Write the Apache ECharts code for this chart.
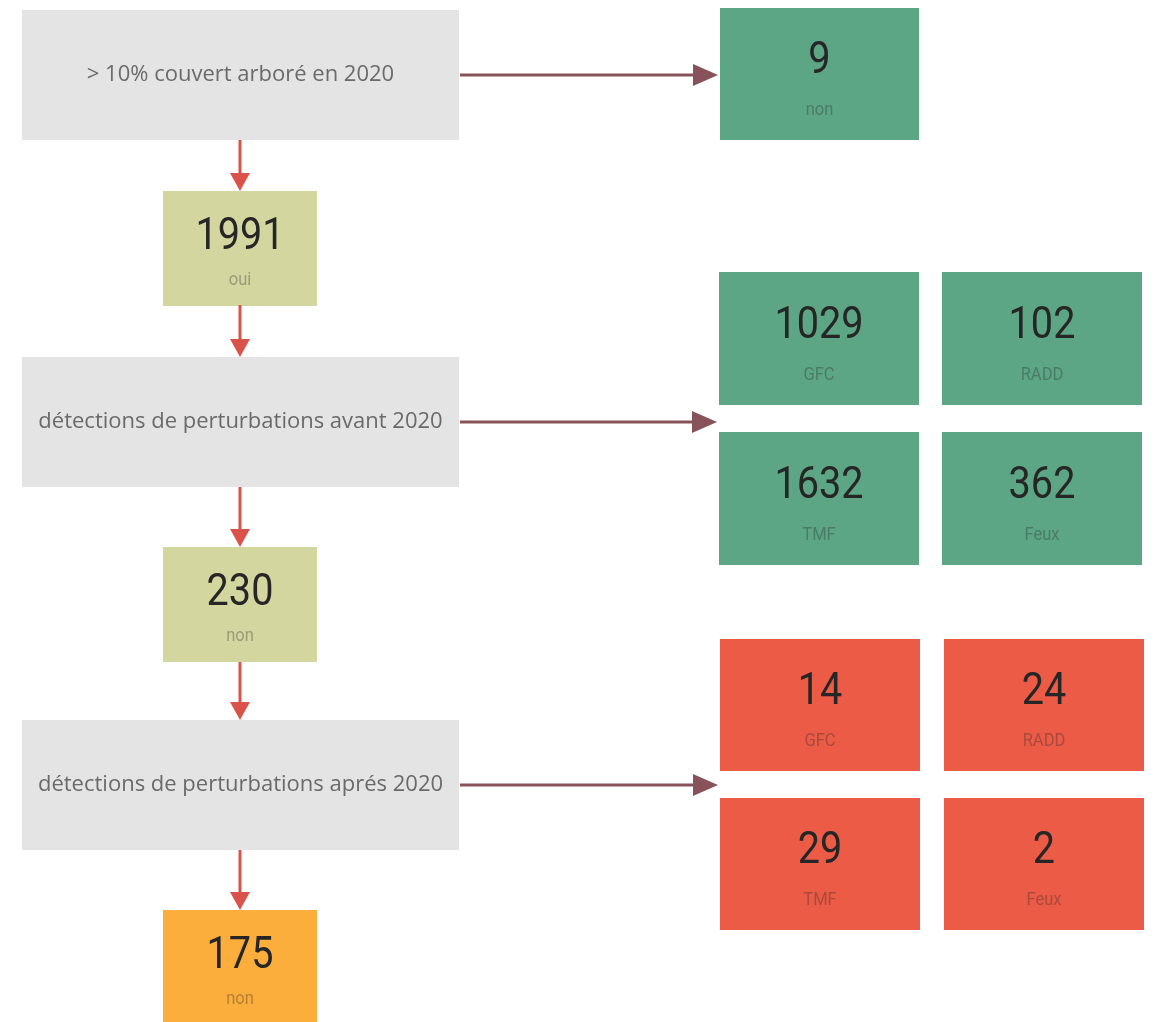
<!DOCTYPE html>
<html>
<head>
<meta charset="utf-8">
<script src="https://cdn.jsdelivr.net/npm/echarts@6/dist/echarts.min.js"></script>
<style>
html,body{margin:0;padding:0;background:#fff;}
#chart{width:1154px;height:1022px;}
</style>
</head>
<body>
<div id="chart"></div>
<script>
// ---- data ----
const stepLabels = ['> 10% couvert arboré en 2020', 'détections de perturbations avant 2020', 'détections de perturbations aprés 2020'];
const flowCounts = [1991, 230, 175];
const flowLabels = ['oui', 'non', 'non'];
const excludedCount = [9];
const excludedLabel = ['non'];
const sources = ['GFC', 'RADD', 'TMF', 'Feux'];
const before2020 = [1029, 102, 1632, 362];
const after2020 = [14, 24, 29, 2];

// ---- layout (pixels) ----
const stepX = 22, stepW = 437, stepH = 130;
const stepY = [10, 357, 720];
const countX = 163, countW = 154, countH = 115;
const countY = [191, 547, 910];
const gridColsA = [719, 942], gridRowsA = [272, 432];
const gridColsB = [720, 944], gridRowsB = [639, 798];
const cellW = 200, cellH = 133;

const C = {
  gray: '#e4e4e4', olive: '#d4d6a0', green: '#5ca686', red: '#ec5b46', orange: '#fbae3c',
  vArrow: '#d9534a', hArrow: '#88525a'
};

const boxes = [];
stepLabels.forEach((t, i) => boxes.push({x: stepX, y: stepY[i], w: stepW, h: stepH, color: C.gray, title: t}));
flowCounts.forEach((v, i) => boxes.push({x: countX, y: countY[i], w: countW, h: countH, color: i === 2 ? C.orange : C.olive, num: v, sub: flowLabels[i]}));
boxes.push({x: 720, y: 8, w: 199, h: 132, color: C.green, num: excludedCount[0], sub: excludedLabel[0]});
before2020.forEach((v, i) => boxes.push({x: gridColsA[i % 2], y: gridRowsA[Math.floor(i / 2)], w: cellW, h: cellH, color: C.green, num: v, sub: sources[i]}));
after2020.forEach((v, i) => boxes.push({x: gridColsB[i % 2], y: gridRowsB[Math.floor(i / 2)], w: cellW, h: cellH - 1, color: C.red, num: v, sub: sources[i]}));

const cx = countX + countW / 2;
const arrows = [
  [cx, 140, cx, 191, 'v'],
  [cx, 305, cx, 357, 'v'],
  [cx, 487, cx, 547, 'v'],
  [cx, 662, cx, 720, 'v'],
  [cx, 850, cx, 910, 'v'],
  [460, 75, 718, 75, 'h'],
  [460, 422, 717, 422, 'h'],
  [460, 785, 718, 785, 'h']
];

const chart = echarts.init(document.getElementById('chart'));
chart.setOption({
  backgroundColor: '#ffffff',
  animation: false,
  grid: {left: 0, right: 0, top: 0, bottom: 0},
  xAxis: {type: 'value', min: 0, max: 1154, show: false},
  yAxis: {type: 'value', min: 0, max: 1022, inverse: true, show: false},
  series: [
    {
      type: 'custom',
      coordinateSystem: 'cartesian2d',
      data: boxes.map(b => [b.x, b.y, b.w, b.h]),
      renderItem: function (params, api) {
        const b = boxes[params.dataIndex];
        const p = api.coord([api.value(0), api.value(1)]);
        const s = api.size([api.value(2), api.value(3)]);
        const children = [{
          type: 'rect',
          shape: {x: p[0], y: p[1], width: s[0], height: s[1]},
          style: {fill: b.color}
        }];
        if (b.title) {
          children.push({
            type: 'text',
            style: {
              x: p[0] + s[0] / 2, y: p[1] + s[1] / 2, text: b.title,
              fill: '#6a6a6a', font: '400 22px "Open Sans", sans-serif',
              align: 'center', verticalAlign: 'middle'
            }
          });
        } else {
          children.push({
            type: 'text',
            x: p[0] + s[0] / 2, y: p[1] + s[1] * 0.41,
            scaleX: 0.9,
            style: {
              x: 0, y: 0, text: String(b.num),
              fill: '#262626', font: '400 44px Roboto, sans-serif',
              align: 'center', verticalAlign: 'middle'
            }
          });
          children.push({
            type: 'text',
            x: p[0] + s[0] / 2, y: p[1] + s[1] * 0.78,
            scaleX: 0.92,
            style: {
              x: 0, y: 0, text: b.sub,
              fill: 'rgba(40,40,40,0.34)', font: '400 18px Roboto, sans-serif',
              align: 'center', verticalAlign: 'middle'
            }
          });
        }
        return {type: 'group', children: children};
      },
      silent: true
    },
    {
      type: 'custom',
      coordinateSystem: 'cartesian2d',
      data: arrows.map(a => a.slice(0, 4)),
      renderItem: function (params, api) {
        const a = arrows[params.dataIndex];
        const p1 = api.coord([api.value(0), api.value(1)]);
        const p2 = api.coord([api.value(2), api.value(3)]);
        const vert = a[4] === 'v';
        const color = vert ? C.vArrow : C.hArrow;
        const hl = vert ? 18 : 25, hw = vert ? 10 : 11;
        let line, head;
        if (vert) {
          line = {x1: p1[0], y1: p1[1], x2: p2[0], y2: p2[1] - hl + 2};
          head = [[p2[0] - hw, p2[1] - hl], [p2[0] + hw, p2[1] - hl], [p2[0], p2[1]]];
        } else {
          line = {x1: p1[0], y1: p1[1], x2: p2[0] - hl + 2, y2: p2[1]};
          head = [[p2[0] - hl, p2[1] - hw], [p2[0] - hl, p2[1] + hw], [p2[0], p2[1]]];
        }
        return {
          type: 'group',
          children: [
            {type: 'line', shape: line, style: {stroke: color, lineWidth: 3}},
            {type: 'polygon', shape: {points: head}, style: {fill: color}}
          ]
        };
      },
      silent: true
    }
  ]
});
</script>
</body>
</html>
